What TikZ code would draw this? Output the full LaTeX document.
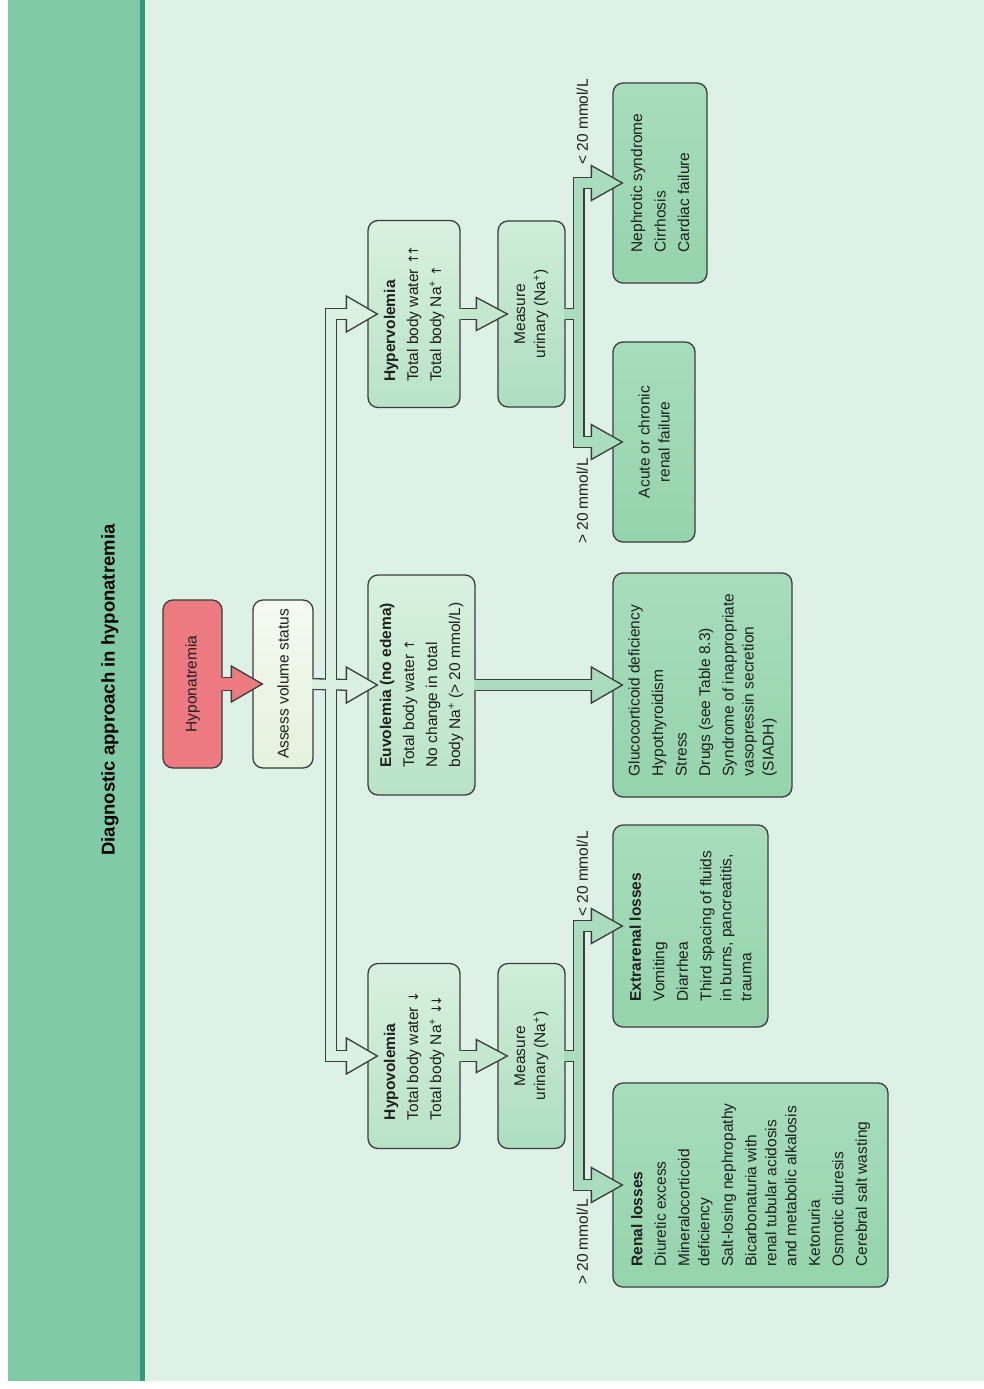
\documentclass[tikz,border=0pt]{standalone}
\usepackage{fontspec}
\setmainfont{Liberation Sans}
\newfontfamily\arrfont{DejaVu Sans}
\newcommand\up{{\arrfont\fontsize{13}{13}\selectfont ↑}}
\newcommand\dn{{\arrfont\fontsize{13}{13}\selectfont ↓}}
\usetikzlibrary{calc}
\definecolor{lc}{HTML}{3C3C3C}
\definecolor{txt}{HTML}{1F1F1F}
\definecolor{band}{HTML}{80CBA5}
\definecolor{strip}{HTML}{2B9C77}
\definecolor{panel}{HTML}{DEF1E6}
\definecolor{pinkf}{HTML}{EC7A80}
\definecolor{assA}{HTML}{F4FAF0}
\definecolor{assB}{HTML}{E4F2DC}
\definecolor{midA}{HTML}{D8F1DE}
\definecolor{midB}{HTML}{B8E3C6}
\definecolor{measA}{HTML}{CFEDD7}
\definecolor{measB}{HTML}{ADDEBF}
\definecolor{outA}{HTML}{A7DDBB}
\definecolor{outB}{HTML}{95D4AD}
\definecolor{trk}{HTML}{DAF1E1}
\definecolor{msr}{HTML}{C3E8CE}
\definecolor{outarr}{HTML}{A9DDBE}
\newcommand\ahead[3]{%
  \filldraw[draw=lc,line width=1.3pt,fill=#2,line join=miter]
    ($(#1.north)+(10,0)$) -- ($(#1.north)+(-21,-#3)$) -- ($(#1.north)+(-21,#3)$) -- cycle;}
\begin{document}
\begin{tikzpicture}[x=1pt,y=-1pt,
  box/.style={draw=lc,line width=1.3pt,rounded corners=10pt,rotate=90,inner sep=0pt,
    text=txt,align=left,font=\fontsize{15.5}{20}\selectfont},
  midbox/.style={box,top color=midA,bottom color=midB},
  measbox/.style={box,top color=measA,bottom color=measB,align=center},
  outbox/.style={box,top color=outA,bottom color=outB},
  oshaft/.style={draw=lc,line width=12pt,line join=miter},
  ishaft/.style={draw=#1,line width=9.4pt,line join=miter},
  lbl/.style={rotate=90,inner sep=0pt,text=txt,font=\fontsize{15.5}{18}\selectfont}
]
\useasboundingbox (0,0) rectangle (984,1389);
\fill[white] (0,0) rectangle (984,1389);
\fill[band] (8,0) rectangle (141,1381);
\fill[strip] (140,0) rectangle (145,1381);
\fill[panel] (146,0) rectangle (984,1381);

\node[rotate=90,text=black,font=\fontsize{18.5}{22}\selectfont\bfseries] (title) at (110,690) {Diagnostic approach in hyponatremia};

% boxes
\node[box,fill=pinkf,minimum width=168,minimum height=59] (hypon) at (192.5,684) {Hyponatremia};
\node[box,top color=assA,bottom color=assB,minimum width=168,minimum height=60] (assess) at (283,684) {Assess volume status};

\node[midbox,minimum width=187,minimum height=92,font=\fontsize{15.5}{23}\selectfont] (hyper) at (414,314)
  {\textbf{Hypervolemia}\\Total body water \up\kern-3pt\up\\Total body Na\textsuperscript{+} \up};
\node[midbox,minimum width=220,minimum height=107,font=\fontsize{15.5}{23}\selectfont] (eu) at (421.5,685)
  {\textbf{Euvolemia (no edema)}\\Total body water \up\\No change in total\\body Na\textsuperscript{+} (> 20 mmol/L)};
\node[midbox,minimum width=185,minimum height=92,font=\fontsize{15.5}{23}\selectfont] (hypo) at (414,1056)
  {\textbf{Hypovolemia}\\Total body water \dn\\Total body Na\textsuperscript{+} \dn\kern-3pt\dn};

\node[measbox,minimum width=186,minimum height=67] (mhyper) at (531.5,314) {Measure\\urinary (Na\textsuperscript{+})};
\node[measbox,minimum width=185,minimum height=67] (mhypo) at (531.5,1056) {Measure\\urinary (Na\textsuperscript{+})};

\node[outbox,minimum width=200,minimum height=94] (neph) at (660,183)
  {Nephrotic syndrome\\[3.5pt]Cirrhosis\\[3.5pt]Cardiac failure};
\node[outbox,minimum width=200,minimum height=82,align=center] (acute) at (654,442)
  {Acute or chronic\\renal failure};
\node[outbox,minimum width=224,minimum height=179] (gluco) at (702.5,685)
  {Glucocorticoid deficiency\\[3.5pt]Hypothyroidism\\[3.5pt]Stress\\[3.5pt]Drugs (see Table 8.3)\\[3.5pt]Syndrome of inappropriate\\vasopressin secretion\\(SIADH)};
\node[outbox,minimum width=202,minimum height=155] (extra) at (690.5,926)
  {\textbf{Extrarenal losses}\\[3.5pt]Vomiting\\[3.5pt]Diarrhea\\[3.5pt]Third spacing of fluids\\in burns, pancreatitis,\\trauma};
\node[outbox,minimum width=204,minimum height=275] (renal) at (750.5,1185)
  {\textbf{Renal losses}\\[3.5pt]Diuretic excess\\[3.5pt]Mineralocorticoid\\deficiency\\[3.5pt]Salt-losing nephropathy\\[3.5pt]Bicarbonaturia with\\renal tubular acidosis\\and metabolic alkalosis\\[3.5pt]Ketonuria\\[3.5pt]Osmotic diuresis\\[3.5pt]Cerebral salt wasting};

% junction coordinates
\coordinate (tk) at ($(assess.south)+(17.5,0)$);
\coordinate (bk1) at ($(mhyper.south)+(13,0)$);
\coordinate (bk2) at ($(mhypo.south)+(13,0)$);

% outer shafts
\draw[draw=lc,line width=14pt] (hypon.south) -- ($(assess.north)+(-18,0)$);
\draw[oshaft] (assess.south) -- ($(eu.north)+(-18,0)$);
\draw[oshaft] ($(hyper.north)+(-18,0)$) -| (tk) |- ($(hypo.north)+(-18,0)$);
\draw[oshaft] (hyper.south) -- ($(mhyper.north)+(-18,0)$);
\draw[oshaft] (hypo.south) -- ($(mhypo.north)+(-18,0)$);
\draw[oshaft] (eu.south) -- ($(gluco.north)+(-18,0)$);
\draw[oshaft] (mhyper.south) -- (bk1);
\draw[oshaft] ($(neph.north)+(-18,0)$) -| (bk1) |- ($(acute.north)+(-18,0)$);
\draw[oshaft] (mhypo.south) -- (bk2);
\draw[oshaft] ($(extra.north)+(-18,0)$) -| (bk2) |- ($(renal.north)+(-18,0)$);

% heads
\ahead{assess}{pinkf}{18}
\ahead{hyper}{trk}{18}
\ahead{eu}{trk}{18}
\ahead{hypo}{trk}{18}
\ahead{mhyper}{msr}{16.5}
\ahead{mhypo}{msr}{16.5}
\ahead{neph}{outarr}{17.5}
\ahead{acute}{outarr}{17.5}
\ahead{gluco}{outarr}{18}
\ahead{extra}{outarr}{17.5}
\ahead{renal}{outarr}{17.5}

% inner shafts
\draw[draw=pinkf,line width=11.4pt] ($(hypon.south)+(-1.5,0)$) -- ($(assess.north)+(-18,0)$);
\draw[ishaft=trk] ($(assess.south)+(-1.5,0)$) -- ($(eu.north)+(-18,0)$);
\draw[ishaft=trk] ($(hyper.north)+(-18,0)$) -| (tk) |- ($(hypo.north)+(-18,0)$);
\draw[ishaft=msr] ($(hyper.south)+(-1.5,0)$) -- ($(mhyper.north)+(-18,0)$);
\draw[ishaft=msr] ($(hypo.south)+(-1.5,0)$) -- ($(mhypo.north)+(-18,0)$);
\draw[ishaft=outarr] ($(eu.south)+(-1.5,0)$) -- ($(gluco.north)+(-18,0)$);
\draw[ishaft=outarr] ($(mhyper.south)+(-1.5,0)$) -- (bk1);
\draw[ishaft=outarr] ($(neph.north)+(-18,0)$) -| (bk1) |- ($(acute.north)+(-18,0)$);
\draw[ishaft=outarr] ($(mhypo.south)+(-1.5,0)$) -- (bk2);
\draw[ishaft=outarr] ($(extra.north)+(-18,0)$) -| (bk2) |- ($(renal.north)+(-18,0)$);

% labels
\node[lbl,anchor=west] (l1) at ($(neph.north)+(-30,-18)$) {< 20 mmol/L};
\node[lbl,anchor=east] (l2) at ($(acute.north)+(-30,16)$) {> 20 mmol/L};
\node[lbl,anchor=west] (l3) at ($(extra.north)+(-30,-9)$) {< 20 mmol/L};
\node[lbl,anchor=east] (l4) at ($(renal.north)+(-30,14)$) {> 20 mmol/L};
\end{tikzpicture}
\end{document}
